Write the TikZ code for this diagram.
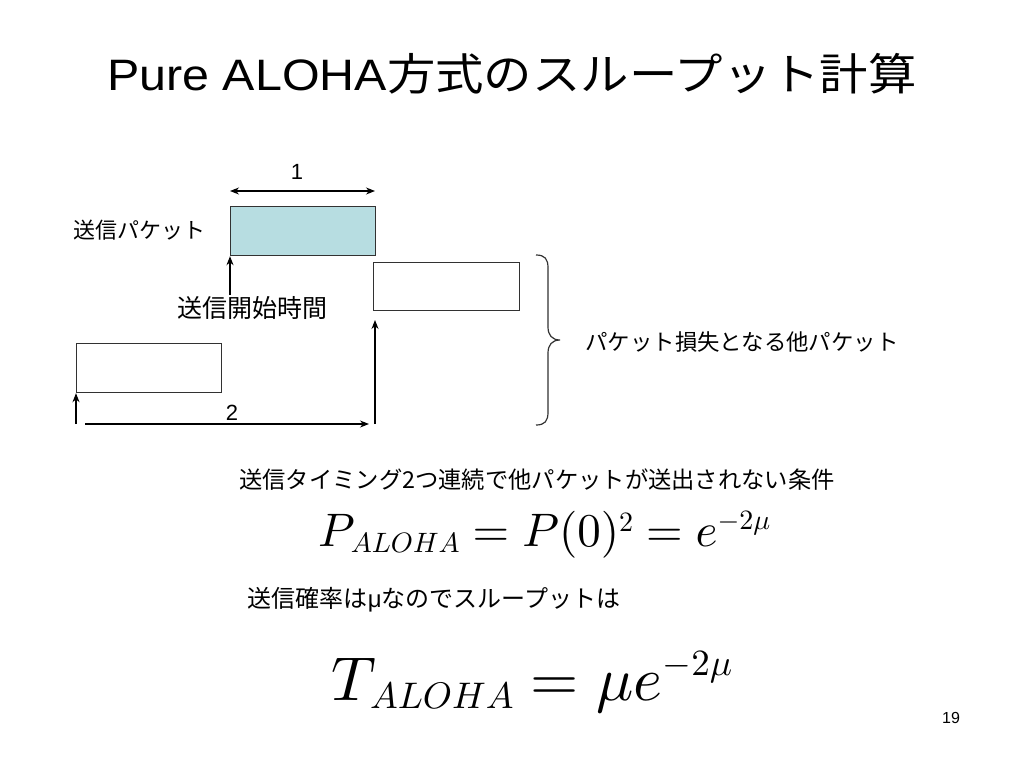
\documentclass[tikz,border=0pt]{standalone}
\usepackage[no-math]{fontspec}
\usepackage{graphicx}
\newfontfamily\jp{Noto Sans CJK JP}
\newfontfamily\lat{Liberation Sans}
\usetikzlibrary{arrows.meta}
\definecolor{pktblue}{RGB}{183,221,225}
\definecolor{edge}{RGB}{50,50,50}
\newcommand\FmlPm[1]{\scalebox{4.7}{$#1$}}
\newcommand\FmlPs[1]{\scalebox{2.8}{$#1$}}
\newcommand\FmlTm[1]{\scalebox{6.2}{$#1$}}
\newcommand\FmlTs[1]{\scalebox{3.7}{$#1$}}
\tikzset{
  pkt/.style={draw=edge, line width=1.2pt, inner sep=0pt, anchor=north west},
  arr/.style={line width=1.2pt, -{Stealth[length=9pt,width=7pt]}},
  darr/.style={line width=1.2pt, {Stealth[length=9pt,width=7pt]}-{Stealth[length=9pt,width=7pt]}},
  lbl/.style={inner sep=0pt, font=\jp\fontsize{22}{24}\selectfont},
  num/.style={inner sep=0pt, font=\lat\fontsize{22}{24}\selectfont},
}
\begin{document}
\begin{tikzpicture}[x=1pt,y=-1pt]
\useasboundingbox (0,0) rectangle (1024,768);
\fill[white] (0,0) rectangle (1024,768);
% title
\node[inner sep=0pt] (title) at (512,74) {\scalebox{1.1}[1.0]{\fontsize{44}{48}\selectfont\lat Pure ALOHA\jp 方式のスループット計算}};
% packets
\node[pkt, fill=pktblue, minimum width=145pt, minimum height=49pt] (p1) at (230,206) {};
\node[pkt, fill=white, minimum width=146pt, minimum height=48pt] (p2) at (373,262) {};
\node[pkt, fill=white, minimum width=145pt, minimum height=49pt] (p3) at (76,343) {};
% length 1
\coordinate (d1a) at (230,191);
\coordinate (d1b) at (375,191);
\draw[darr] (d1a) -- (d1b);
\node[num] (one) at (297,172) {1};
% start arrow
\coordinate (s1) at (230,295);
\draw[arr] (s1) -- (p1.south west);
\node[lbl, font=\jp\fontsize{25}{27}\selectfont] (start) at (252,308) {送信開始時間};
\node[lbl] (send) at (139,230) {送信パケット};
% lower arrows
\coordinate (b0) at (76,424);
\draw[arr] (b0) -- (p3.south west);
\coordinate (b2) at (375,424);
\coordinate (b2t) at (375,320);
\draw[arr] (b2) -- (b2t);
\coordinate (r0) at (85,424);
\coordinate (r1) at (369,424);
\draw[arr] (r0) -- (r1);
\node[num] (two) at (232,413) {2};
% brace
\coordinate (brtip) at (560,340);
\draw[edge, line width=1.2pt] (536,255) .. controls (545,255) and (548,259) .. (548,268)
  -- (548,327) .. controls (548,335) and (552,340) .. (brtip)
  .. controls (552,340) and (548,345) .. (548,353)
  -- (548,412) .. controls (548,421) and (545,425) .. (536,425);
\node[lbl, font=\jp\fontsize{22.4}{24}\selectfont] (lost) at (742,342) {パケット損失となる他パケット};
% text lines
\node[lbl, font=\jp\fontsize{23.3}{25}\selectfont] (cond) at (537,480) {送信タイミング2つ連続で他パケットが送出されない条件};
\node[inner sep=0pt, anchor=base west] (f1) at (318,546) {%
  \FmlPm{P}\kern-4pt\raisebox{-6pt}{\FmlPs{ALOHA}}%
  \FmlPm{{}=P(0)}\raisebox{15pt}{\FmlPs{2}}%
  \FmlPm{{}=e}\raisebox{17pt}{\FmlPs{-2\mu}}};
\node[lbl, font=\jp\fontsize{24}{26}\selectfont] (prob) at (434,600) {送信確率は\lat μ\jp なのでスループットは};
\node[inner sep=0pt, anchor=base west] (f2) at (331,700) {%
  \FmlTm{T}\kern-6pt\raisebox{-8pt}{\FmlTs{ALOHA}}%
  \FmlTm{{}=\mu e}\raisebox{25pt}{\FmlTs{-2\mu}}};
\node[num, font=\lat\fontsize{16}{18}\selectfont] (pg) at (951,718) {19};
\end{tikzpicture}
\end{document}
